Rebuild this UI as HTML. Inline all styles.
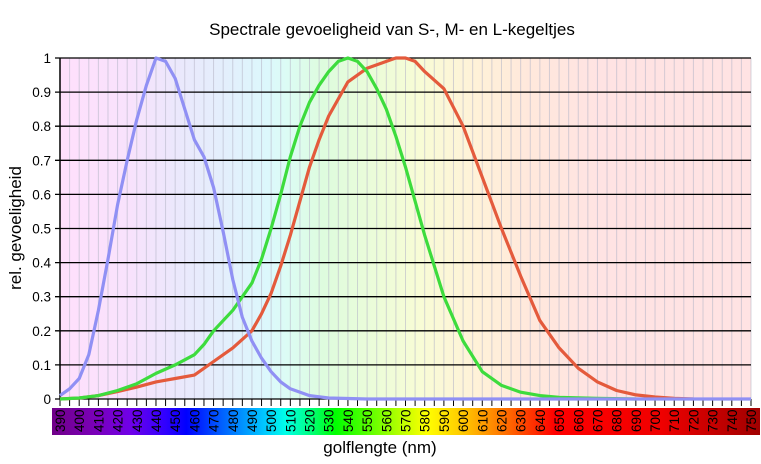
<!DOCTYPE html>
<html><head><meta charset="utf-8"><style>
html,body{margin:0;padding:0;background:#fff;width:761px;height:464px;overflow:hidden}
svg{display:block;font-family:"Liberation Sans","DejaVu Sans",sans-serif}
</style></head><body>
<svg id="s" width="761" height="464" viewBox="0 0 761 464" xmlns="http://www.w3.org/2000/svg">
<defs>
<linearGradient id="bg" x1="60" x2="751" y1="0" y2="0" gradientUnits="userSpaceOnUse">
<stop offset="0" stop-color="#ffe0fc"/>
<stop offset="0.1" stop-color="#f8e2fc"/>
<stop offset="0.17" stop-color="#ebe8fc"/>
<stop offset="0.25" stop-color="#e2f0fc"/>
<stop offset="0.3" stop-color="#dcf8fc"/>
<stop offset="0.33" stop-color="#dcfcf4"/>
<stop offset="0.38" stop-color="#defcde"/>
<stop offset="0.47" stop-color="#eefcd8"/>
<stop offset="0.52" stop-color="#f8fcd6"/>
<stop offset="0.6" stop-color="#fff2d8"/>
<stop offset="0.68" stop-color="#ffe8dc"/>
<stop offset="0.78" stop-color="#ffe3e3"/>
<stop offset="1" stop-color="#ffe3e3"/>
</linearGradient>
<linearGradient id="cb" x1="52" x2="760" y1="0" y2="0" gradientUnits="userSpaceOnUse">
<stop offset="0" stop-color="#700088"/>
<stop offset="0.06" stop-color="#7a00b8"/>
<stop offset="0.11" stop-color="#7000e8"/>
<stop offset="0.16" stop-color="#3000ff"/>
<stop offset="0.19" stop-color="#0000ff"/>
<stop offset="0.24" stop-color="#0060ff"/>
<stop offset="0.3" stop-color="#00c8ff"/>
<stop offset="0.33" stop-color="#00ffe8"/>
<stop offset="0.36" stop-color="#00ff90"/>
<stop offset="0.4" stop-color="#00ff00"/>
<stop offset="0.45" stop-color="#60ff00"/>
<stop offset="0.5" stop-color="#c8ff00"/>
<stop offset="0.53" stop-color="#ffff00"/>
<stop offset="0.58" stop-color="#ffc800"/>
<stop offset="0.64" stop-color="#ff7000"/>
<stop offset="0.68" stop-color="#ff3000"/>
<stop offset="0.71" stop-color="#ff0000"/>
<stop offset="0.86" stop-color="#f00000"/>
<stop offset="1" stop-color="#a00000"/>
</linearGradient>
</defs>
<rect x="60" y="58" width="691" height="341" fill="url(#bg)"/>
<g id="vg"></g>
<g id="hg"></g>
<rect x="52" y="408" width="708" height="27" fill="url(#cb)"/>
<g id="xl" font-size="13.5" fill="#000"></g>
<g id="yl" font-size="13.5" fill="#000" text-anchor="end"></g>
<g id="cv" fill="none" stroke-width="3.2" stroke-linejoin="round"></g>
<text x="392" y="35" font-size="17" text-anchor="middle">Spectrale gevoeligheid van S-, M- en L-kegeltjes</text>
<text x="380" y="453" font-size="17" text-anchor="middle">golflengte (nm)</text>
<text transform="translate(21,228) rotate(-90)" font-size="17" text-anchor="middle">rel. gevoeligheid</text>
</svg>
<script>
var NS="http://www.w3.org/2000/svg";
function X(nm){return 60+(nm-390)*691/360}
function Y(v){return 399-v*341}
function el(p,t,a,txt){var e=document.createElementNS(NS,t);for(var k in a)e.setAttribute(k,a[k]);if(txt!=null)e.textContent=txt;document.getElementById(p).appendChild(e);return e}
for(var n=395;n<=750;n+=5){el("vg","line",{x1:X(n),x2:X(n),y1:58,y2:399,stroke:"#b8b8c8","stroke-width":1,"stroke-opacity":0.6});}
for(var n=390;n<=750;n+=5){el("vg","line",{x1:X(n),x2:X(n),y1:399,y2:406,stroke:"#000","stroke-width":1});}
el("hg","line",{x1:60,x2:60,y1:58,y2:399,stroke:"#000","stroke-width":1.5});
for(var i=0;i<=10;i++){var y=Y(i/10);el("hg","line",{x1:55,x2:751,y1:y,y2:y,stroke:"#000","stroke-width":1.3});
 el("yl","text",{x:51,y:y+5},i==0?"0":i==10?"1":"0."+i);}
for(var n=390;n<=750;n+=10){var x=X(n);el("xl","text",{transform:"translate("+(x+5)+",432) rotate(-90)"},""+n);}
var S=[[390,.01],[395,.03],[400,.06],[405,.13],[410,.26],[415,.41],[420,.57],[425,.7],[430,.82],[435,.92],[440,1],[445,.99],[450,.94],[455,.85],[460,.76],[465,.71],[470,.62],[475,.49],[480,.35],[485,.24],[490,.17],[495,.12],[500,.08],[505,.05],[510,.03],[520,.01],[530,.003],[550,0],[750,0]];
var M=[[390,0],[400,.003],[410,.01],[420,.025],[430,.045],[440,.075],[450,.1],[460,.13],[465,.16],[470,.2],[480,.26],[490,.34],[495,.41],[500,.5],[505,.6],[510,.71],[515,.8],[520,.87],[525,.92],[530,.96],[535,.99],[540,1],[545,.99],[550,.96],[555,.91],[560,.85],[565,.77],[570,.68],[575,.58],[580,.48],[590,.3],[600,.17],[610,.08],[620,.04],[630,.02],[640,.01],[650,.005],[670,.002],[690,0]];
var L=[[390,0],[400,.003],[410,.01],[420,.022],[430,.035],[440,.05],[450,.06],[460,.07],[470,.11],[480,.15],[490,.2],[495,.25],[500,.31],[505,.39],[510,.48],[515,.58],[520,.68],[525,.76],[530,.83],[540,.93],[550,.97],[560,.99],[565,1],[570,1],[575,.99],[580,.96],[590,.91],[600,.8],[610,.65],[620,.5],[630,.36],[640,.23],[650,.15],[660,.09],[670,.05],[680,.025],[690,.012],[700,.006],[710,.002],[720,0]];
function path(d,c){var s="";d.forEach(function(p,i){s+=(i?"L":"M")+X(p[0]).toFixed(1)+","+Y(p[1]).toFixed(1)});el("cv","path",{d:s,stroke:c});}
path(L,"#e45a3c");path(M,"#3ddc3d");path(S,"#9090f4");
</script>
</body></html>
